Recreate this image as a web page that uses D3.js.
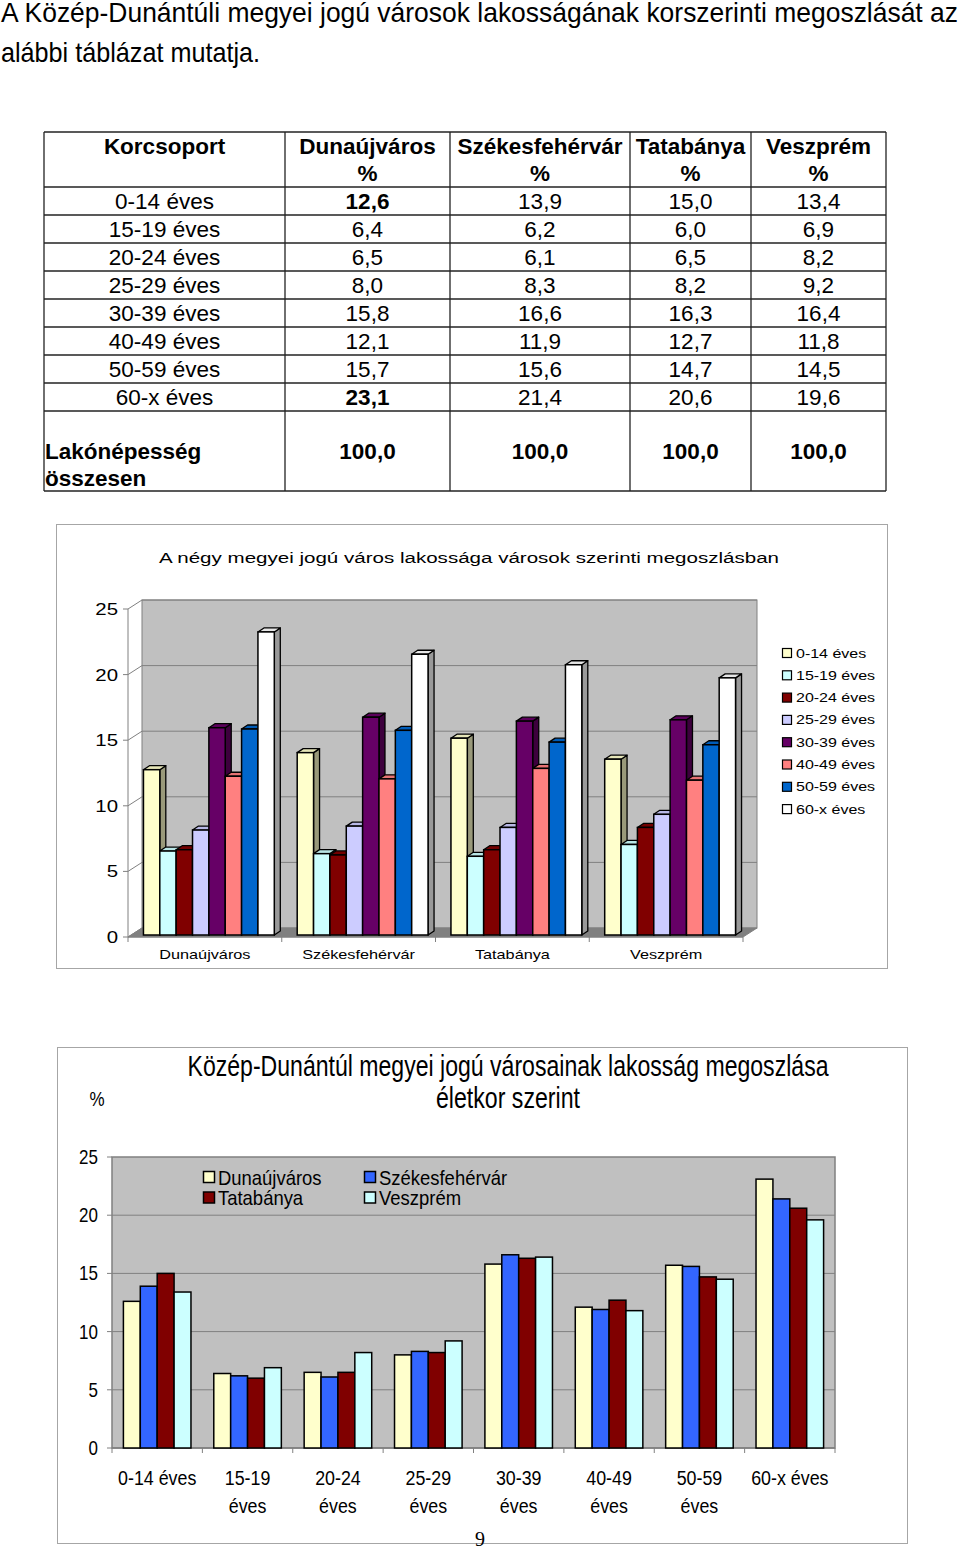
<!DOCTYPE html>
<html><head><meta charset="utf-8">
<script src="https://cdn.jsdelivr.net/npm/d3@7"></script>
<style>body{margin:0;background:#fff}svg{display:block}</style>
</head><body>
<script>
// ---------- DATA ----------
const ages = ["0-14 éves","15-19 éves","20-24 éves","25-29 éves","30-39 éves","40-49 éves","50-59 éves","60-x éves"];
const cities = ["Dunaújváros","Székesfehérvár","Tatabánya","Veszprém"];
const dunaujvaros    = [12.6, 6.4, 6.5, 8.0, 15.8, 12.1, 15.7, 23.1];
const szekesfehervar = [13.9, 6.2, 6.1, 8.3, 16.6, 11.9, 15.6, 21.4];
const tatabanya      = [15.0, 6.0, 6.5, 8.2, 16.3, 12.7, 14.7, 20.6];
const veszprem       = [13.4, 6.9, 8.2, 9.2, 16.4, 11.8, 14.5, 19.6];
const totals = [100.0, 100.0, 100.0, 100.0];
const boldCells = [[0,0],[0,7]]; // [cityIndex, ageIndex]
const yTicks = [0,5,10,15,20,25];
const ageColors = ["#FFFFCC","#CCFFFF","#800000","#CCCCFF","#660066","#FF8080","#0066CC","#FFFFFF"];
const cityColors = ["#FFFFCC","#3366FF","#800000","#CCFFFF"];
const introLines = ["A Közép-Dunántúli megyei jogú városok lakosságának korszerinti megoszlását az","alábbi táblázat mutatja."];
const tableHeader = ["Korcsoport","Dunaújváros","Székesfehérvár","Tatabánya","Veszprém"];
const totalLabel = ["Lakónépesség","összesen"];
const chart1Title = "A négy megyei jogú város lakossága városok szerinti megoszlásban";
const chart2Title = ["Közép-Dunántúl megyei jogú városainak lakosság megoszlása","életkor szerint"];
const chart2Unit = "%";
const pageNumber = "9";

const series = [dunaujvaros, szekesfehervar, tatabanya, veszprem];
const fmt = v => d3.format(".1f")(v).replace(".", ",");
const SANS = "'Liberation Sans', Arial, sans-serif";

const svg = d3.select("body").append("svg").attr("width",960).attr("height",1550);

function txt(g, x, y, s, o) {
  o = o || {};
  const t = g.append("text")
    .attr("transform", `translate(${x},${y}) scale(${o.sx||1},1)`)
    .attr("text-anchor", o.anchor || "start")
    .style("font-family", o.family || SANS)
    .style("font-size", (o.size||16) + "px")
    .style("font-weight", o.weight || "normal")
    .attr("fill", o.fill || "#000")
    .text(s);
  if (o.len) t.attr("textLength", o.len).attr("lengthAdjust","spacingAndGlyphs");
  return t;
}

// ---------- INTRO ----------
txt(svg, 1, 22, introLines[0], {size:28, len:957});
txt(svg, 1, 62, introLines[1], {size:28, len:259});

// ---------- TABLE ----------
const tg = svg.append("g");
const colEdges = [44,285,450,630,751,886];
const rowTop = 187, rowH = 28, tableTop = 132, totalTop = rowTop + rowH*ages.length, tableBottom = 491;
const colC = i => (colEdges[i] + colEdges[i+1]) / 2;
colEdges.forEach(x => tg.append("line").attr("x1",x).attr("x2",x).attr("y1",tableTop).attr("y2",tableBottom).attr("stroke","#222").attr("stroke-width",1.3));
const hLines = [tableTop, rowTop].concat(ages.map((a,i)=>rowTop+rowH*(i+1))).concat([tableBottom]);
hLines.forEach(y => tg.append("line").attr("x1",colEdges[0]).attr("x2",colEdges[5]).attr("y1",y).attr("y2",y).attr("stroke","#222").attr("stroke-width",1.3));
tableHeader.forEach((h,i) => {
  txt(tg, colC(i), 154, h, {size:22.5, weight:"bold", anchor:"middle"});
  if (i>0) txt(tg, colC(i), 181, "%", {size:22.5, weight:"bold", anchor:"middle"});
});
ages.forEach((a,r) => {
  const yb = rowTop + rowH*r + 22;
  txt(tg, colC(0), yb, a, {size:22.5, anchor:"middle"});
  series.forEach((s,c) => {
    const bold = boldCells.some(b => b[0]===c && b[1]===r);
    txt(tg, colC(c+1), yb, fmt(s[r]), {size:22.5, anchor:"middle", weight: bold?"bold":"normal"});
  });
});
txt(tg, 45, totalTop+48, totalLabel[0], {size:22.5, weight:"bold"});
txt(tg, 45, totalTop+75, totalLabel[1], {size:22.5, weight:"bold"});
totals.forEach((v,c) => txt(tg, colC(c+1), totalTop+48, fmt(v), {size:22.5, weight:"bold", anchor:"middle"}));

// ---------- CHART 1 (3D clustered columns) ----------
const c1 = svg.append("g");
c1.append("rect").attr("x",56.5).attr("y",524.5).attr("width",831).attr("height",444).attr("fill","#fff").attr("stroke","#a6a6a6");
txt(c1, 469, 563, chart1Title, {size:15.5, anchor:"middle", len:620});
const y1 = d3.scaleLinear().domain([0,25]).range([937,609]);
const x1 = d3.scaleBand().domain(cities).range([128,743]);
const xi1 = d3.scaleBand().domain(ages).range([0, x1.bandwidth()]).paddingOuter(0.7);
const DX = 14, DY = -9;
const [fx0, fx1] = x1.range();
c1.append("rect").attr("x",fx0+DX).attr("y",y1(25)+DY).attr("width",fx1-fx0).attr("height",y1(0)-y1(25))
  .attr("fill","#C0C0C0").attr("stroke","#808080");
c1.append("polygon").attr("points",[[fx0,y1(0)],[fx1,y1(0)],[fx1+DX,y1(0)+DY],[fx0+DX,y1(0)+DY]].map(p=>p.join(",")).join(" "))
  .attr("fill","#808080").attr("stroke","#808080");
yTicks.forEach(t => {
  if (t>0) c1.append("line").attr("x1",fx0+DX).attr("x2",fx1+DX).attr("y1",y1(t)+DY).attr("y2",y1(t)+DY).attr("stroke","#808080");
  c1.append("line").attr("x1",fx0).attr("x2",fx0+DX).attr("y1",y1(t)).attr("y2",y1(t)+DY).attr("stroke","#808080");
  c1.append("line").attr("x1",fx0-5).attr("x2",fx0).attr("y1",y1(t)).attr("y2",y1(t)).attr("stroke","#808080");
  txt(c1, 118, y1(t)+6, String(t), {size:17, sx:1.2, anchor:"end"});
});
c1.append("line").attr("x1",fx0).attr("x2",fx0).attr("y1",y1(0)).attr("y2",y1(25)).attr("stroke","#808080");
c1.append("line").attr("x1",fx0).attr("x2",fx1).attr("y1",y1(0)).attr("y2",y1(0)).attr("stroke","#808080");
cities.concat([null]).forEach(c => {
  const x = c ? x1(c) : fx1;
  c1.append("line").attr("x1",x).attr("x2",x).attr("y1",y1(0)).attr("y2",y1(0)+5).attr("stroke","#808080");
});
cities.forEach(c => txt(c1, x1(c)+x1.bandwidth()/2, 959, c, {size:13, sx:1.25, anchor:"middle"}));
const bdx = 4, bdy = -2, sdx = 6, sdy = -4;
const shade = (col,k) => { const c = d3.rgb(col); return d3.rgb(c.r*k, c.g*k, c.b*k).formatHex(); };
const pts = a => a.map(p=>p.join(",")).join(" ");
cities.forEach((c,ci) => {
  ages.forEach((a,ai) => {
    const v = series[ci][ai];
    const x0 = x1(c) + xi1(a) + bdx, w = xi1.bandwidth();
    const yb = y1(0) + bdy, yt = y1(v) + bdy;
    const col = ageColors[ai];
    c1.append("polygon").attr("points", pts([[x0+w,yt],[x0+w+sdx,yt+sdy],[x0+w+sdx,yb+sdy],[x0+w,yb]]))
      .attr("fill", shade(col,0.6)).attr("stroke","#000").attr("stroke-width",1.3).attr("stroke-linejoin","round");
    c1.append("polygon").attr("points", pts([[x0,yt],[x0+sdx,yt+sdy],[x0+w+sdx,yt+sdy],[x0+w,yt]]))
      .attr("fill", shade(col,0.9)).attr("stroke","#000").attr("stroke-width",1.3).attr("stroke-linejoin","round");
    c1.append("rect").attr("x",x0).attr("y",yt).attr("width",w).attr("height",yb-yt)
      .attr("fill", col).attr("stroke","#000").attr("stroke-width",1.5);
  });
});
ages.forEach((a,i) => {
  const y = 653 + i*22.3;
  c1.append("rect").attr("x",782.5).attr("y",y-4.5).attr("width",9).attr("height",9).attr("fill",ageColors[i]).attr("stroke","#000").attr("stroke-width",1.2);
  txt(c1, 796, y+4.5, a, {size:12.6, sx:1.27});
});

// ---------- CHART 2 (clustered columns) ----------
const c2 = svg.append("g");
c2.append("rect").attr("x",57.5).attr("y",1047.5).attr("width",850).attr("height",496).attr("fill","#fff").attr("stroke","#a6a6a6");
txt(c2, 508, 1076, chart2Title[0], {size:29, anchor:"middle", len:641});
txt(c2, 508, 1108, chart2Title[1], {size:29, anchor:"middle", len:144});
txt(c2, 97, 1106, chart2Unit, {size:20, sx:0.85, anchor:"middle"});
const y2 = d3.scaleLinear().domain([0,25]).range([1448,1157]);
const x2 = d3.scaleBand().domain(ages).range([112,835]);
const xi2 = d3.scaleBand().domain(cities).range([0, x2.bandwidth()]).paddingOuter(0.675);
c2.append("rect").attr("x",112).attr("y",y2(25)).attr("width",835-112).attr("height",y2(0)-y2(25)).attr("fill","#C0C0C0").attr("stroke","#808080").attr("stroke-width",1.5);
yTicks.forEach(t => {
  if (t>0 && t<25) c2.append("line").attr("x1",112).attr("x2",835).attr("y1",y2(t)).attr("y2",y2(t)).attr("stroke","#808080");
  c2.append("line").attr("x1",107).attr("x2",112).attr("y1",y2(t)).attr("y2",y2(t)).attr("stroke","#808080");
  txt(c2, 98, y2(t)+7, String(t), {size:20, sx:0.85, anchor:"end"});
});
c2.append("line").attr("x1",112).attr("x2",835).attr("y1",y2(0)).attr("y2",y2(0)).attr("stroke","#808080").attr("stroke-width",1.5);
ages.concat([null]).forEach(a => {
  const x = a ? x2(a) : 835;
  c2.append("line").attr("x1",x).attr("x2",x).attr("y1",y2(0)).attr("y2",y2(0)+5).attr("stroke","#808080");
});
ages.forEach(a => {
  const parts = a.split(" ");
  const cx = x2(a) + x2.bandwidth()/2;
  if (parts[0].length > 4) {
    txt(c2, cx, 1485, parts[0], {size:21, sx:0.85, anchor:"middle"});
    txt(c2, cx, 1513, parts[1], {size:21, sx:0.85, anchor:"middle"});
  } else {
    txt(c2, cx, 1485, a, {size:21, sx:0.85, anchor:"middle"});
  }
});
ages.forEach((a,ai) => {
  cities.forEach((c,ci) => {
    const v = series[ci][ai];
    c2.append("rect").attr("x", x2(a)+xi2(c)).attr("y", y2(v)).attr("width", xi2.bandwidth()).attr("height", y2(0)-y2(v))
      .attr("fill", cityColors[ci]).attr("stroke","#000").attr("stroke-width",1.5);
  });
});
cities.forEach((c,i) => {
  const col = i % 2, row = Math.floor(i/2);
  const lx = 203 + col*161, ly = 1177 + row*20.5;
  c2.append("rect").attr("x",lx+0.5).attr("y",ly-5.5).attr("width",11).attr("height",11).attr("fill",cityColors[i]).attr("stroke","#000").attr("stroke-width",1.5);
  txt(c2, lx+15, ly+7.5, c, {size:20.5, sx:0.9});
});
txt(svg, 480, 1546, pageNumber, {size:20, anchor:"middle", family:"'Liberation Serif', 'Times New Roman', serif"});
</script>
</body></html>
